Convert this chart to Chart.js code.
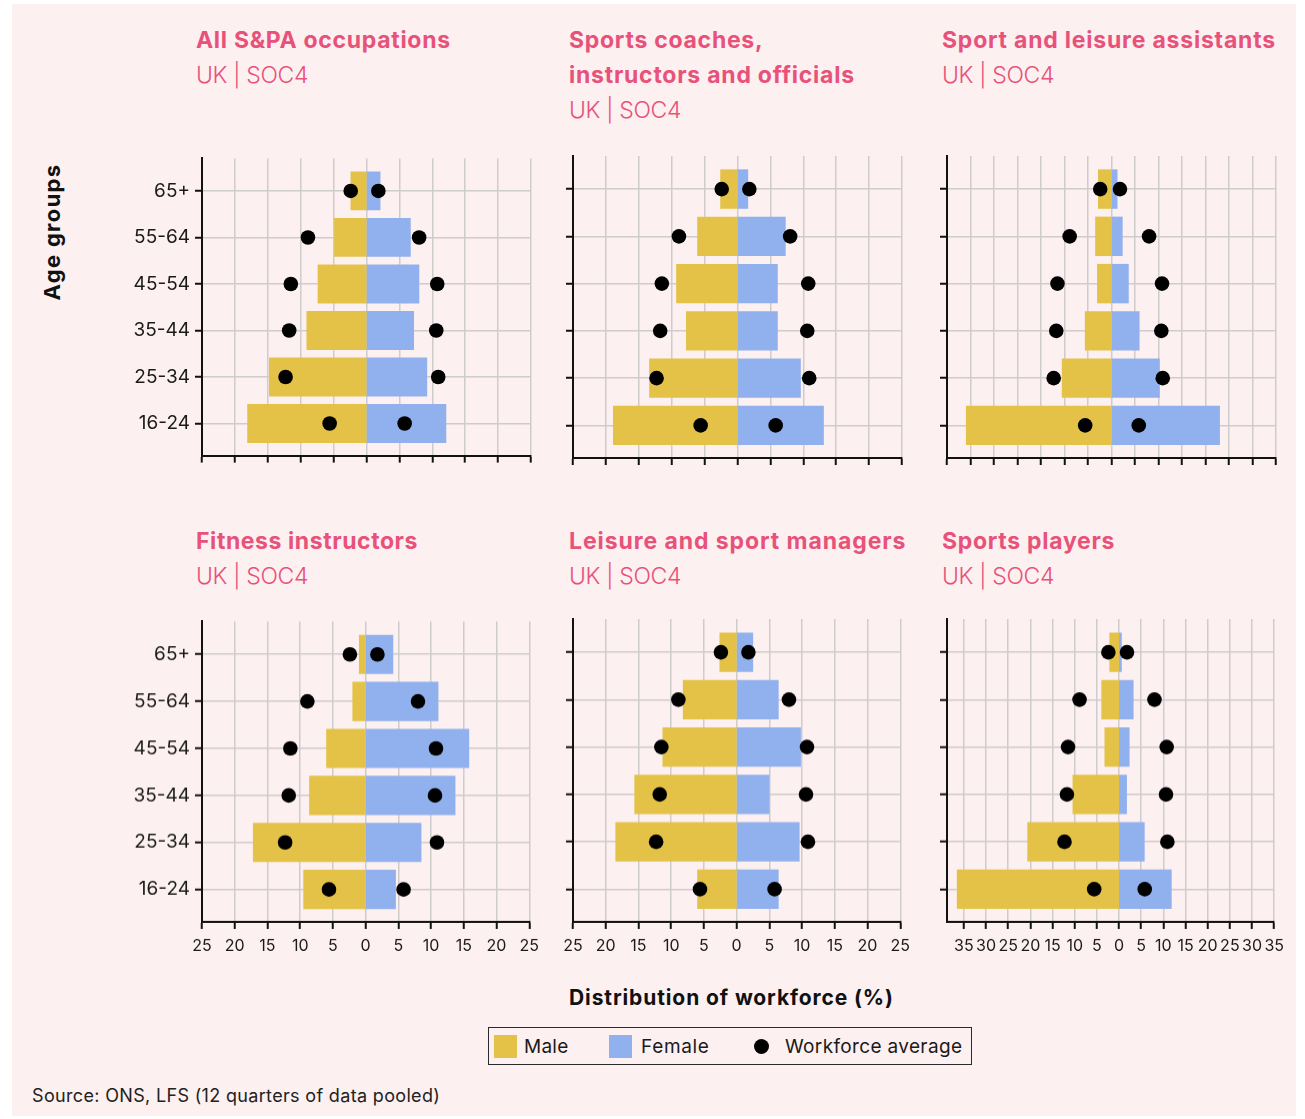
<!DOCTYPE html>
<html>
<head>
<meta charset="utf-8">
<title>Age profile of the S&PA workforce</title>
<script src="https://cdn.jsdelivr.net/npm/chart.js@4.4.1/dist/chart.umd.min.js"></script>
<style>
  body { margin: 0; width: 1305px; height: 1119px; position: relative; overflow: hidden; background: #fff;
         font-family: Inter, "Open Sans", sans-serif; color: #1a1a1a; }
  #bg { position: absolute; left: 12px; top: 4px; width: 1284px; height: 1112px; background: #fdf0f0; }
  .t { position: absolute; white-space: nowrap; line-height: 30px; height: 30px; }
  .title { color: #e8527a; font-weight: 700; font-size: 23px; }
  .sub { color: #e8527a; font-weight: 300; font-size: 23px; }
  .axt { font-weight: 700; font-size: 21px; color: #111; }
  .src { font-size: 18px; color: #222; }
  .leg { font-size: 19px; color: #1a1a1a; }
  #agegroups { position: absolute; left: 52px; top: 232px; transform: translate(-50%, -50%) rotate(-90deg);
               font-weight: 700; font-size: 22px; white-space: nowrap; color: #111; }
  #legend { position: absolute; left: 488px; top: 1027px; width: 484px; height: 38px; box-sizing: border-box;
            border: 1.5px solid #2a2a2a; }
  .sw { position: absolute; width: 23px; height: 23px; }
  canvas { position: absolute; }
</style>
</head>
<body>
<div id="bg"></div>
<div id="agegroups" data-w="137">Age groups</div>
<div id="legend"></div>
<script>
const ageGroups = ['65+', '55-64', '45-54', '35-44', '25-34', '16-24'];

// workforce average, same in every panel
const avgMale = [2.4, 8.9, 11.5, 11.75, 12.3, 5.6];
const avgFemale = [1.8, 8.0, 10.75, 10.6, 10.9, 5.8];

const allMale = [2.3, 4.8, 7.3, 9.0, 14.7, 18.0];
const allFemale = [2.0, 6.6, 7.9, 7.1, 9.1, 12.0];

const coachesMale = [2.5, 6.0, 9.2, 7.7, 13.3, 18.8];
const coachesFemale = [1.5, 7.2, 6.0, 6.0, 9.5, 13.0];

const assistantsMale = [2.7, 3.3, 2.9, 5.5, 10.4, 30.8];
const assistantsFemale = [1.1, 2.2, 3.5, 5.8, 10.1, 22.9];

const fitnessMale = [0.9, 1.9, 5.9, 8.5, 17.1, 9.4];
const fitnessFemale = [4.1, 11.0, 15.7, 13.6, 8.4, 4.5];

const managersMale = [2.5, 8.1, 11.2, 15.5, 18.4, 5.9];
const managersFemale = [2.4, 6.3, 9.7, 4.9, 9.5, 6.3];

const playersMale = [2.0, 3.8, 3.1, 10.3, 20.5, 36.4];
const playersFemale = [0.45, 3.1, 2.2, 1.6, 5.6, 11.7];

const xMins = [-25, -25, -35, -25, -25, -38.8];
const xMaxs = [25, 25, 35, 25, 25, 35];

const MALE = '#e3c247';
const FEMALE = '#91b1ee';
const GRID = '#cfcccc';
const AXIS = '#111';

Chart.defaults.font.family = 'Inter, "Open Sans", sans-serif';

const panels = [
  { male: allMale, female: allFemale, left: 201.5, top: 155.7, yLabels: true, xLabels: false },
  { male: coachesMale, female: coachesFemale, left: 573.3, top: 155.7, yLabels: false, xLabels: false },
  { male: assistantsMale, female: assistantsFemale, left: 947.3, top: 155.7, yLabels: false, xLabels: false },
  { male: fitnessMale, female: fitnessFemale, left: 201.5, top: 619, yLabels: true, xLabels: true },
  { male: managersMale, female: managersFemale, left: 573.3, top: 619, yLabels: false, xLabels: true },
  { male: playersMale, female: playersFemale, left: 947.3, top: 619, yLabels: false, xLabels: true }
];

const YW = 90, PT = 14, PR = 16, PW = 329, PH = 302.7;

function makePanel(p, k) {
  const xh = p.xLabels ? 44 : 14;
  const w = YW + PW + PR, h = PT + PH + xh;
  const cv = document.createElement('canvas');
  cv.width = w; cv.height = h;
  cv.style.left = (p.left - YW) + 'px';
  cv.style.top = (p.top - PT) + 'px';
  cv.style.width = w + 'px';
  cv.style.height = h + 'px';
  document.body.appendChild(cv);

  const side = (arr, sign) => arr.map((v, i) => ({ x: sign * v, y: i }));
  const gridOpts = { color: GRID, lineWidth: 1.5, tickColor: AXIS, tickLength: 7, tickWidth: 2, offset: false };

  new Chart(cv, {
    type: 'bar',
    data: {
      datasets: [
        { label: 'Workforce average', type: 'scatter', order: 0,
          data: side(avgMale, -1).concat(side(avgFemale, 1)),
          backgroundColor: '#000', borderWidth: 0, pointRadius: 7.3 },
        { label: 'Male', order: 1, grouped: false, data: side(p.male, -1),
          backgroundColor: MALE, borderWidth: 0, inflateAmount: 0.8 },
        { label: 'Female', order: 1, grouped: false, data: side(p.female, 1),
          backgroundColor: FEMALE, borderWidth: 0, inflateAmount: 0.8 }
      ]
    },
    options: {
      indexAxis: 'y',
      responsive: false,
      animation: false,
      events: [],
      barPercentage: 0.8,
      categoryPercentage: 1,
      layout: { padding: { top: PT, right: PR, left: 0, bottom: 0 } },
      plugins: { legend: { display: false }, tooltip: { enabled: false } },
      scales: {
        x: {
          type: 'linear', min: xMins[k], max: xMaxs[k], offset: false,
          afterFit: s => { s.height = xh; },
          afterBuildTicks: s => { s.ticks = s.ticks.filter(t => Math.abs(t.value % 5) < 1e-6); },
          ticks: { stepSize: 5, includeBounds: false, autoSkip: false, maxRotation: 0,
                   display: p.xLabels, padding: 8, font: { size: 16 }, color: '#1a1a1a',
                   callback: v => Math.abs(v) },
          grid: gridOpts,
          border: { color: AXIS, width: 2 }
        },
        y: {
          type: 'linear', reverse: true, min: -0.7, max: 5.69, offset: false,
          afterFit: s => { s.width = YW; },
          ticks: { stepSize: 1, includeBounds: false, autoSkip: false,
                   display: p.yLabels, padding: 5, font: { size: 19 }, color: '#1a1a1a',
                   callback: v => ageGroups[v] },
          grid: gridOpts,
          border: { color: AXIS, width: 2 }
        }
      }
    }
  });
}

panels.forEach(makePanel);

// text: [content, left, centre y, target width, class]
const texts = [
  ['All S&PA occupations', 196, 40, 255, 'title'],
  ['UK | SOC4', 196, 75, 112, 'sub'],
  ['Sports coaches,', 569, 40, 194, 'title'],
  ['instructors and officials', 569, 75, 286, 'title'],
  ['UK | SOC4', 569, 110, 112, 'sub'],
  ['Sport and leisure assistants', 942, 40, 334, 'title'],
  ['UK | SOC4', 942, 75, 112, 'sub'],
  ['Fitness instructors', 196, 541, 222, 'title'],
  ['UK | SOC4', 196, 576, 112, 'sub'],
  ['Leisure and sport managers', 569, 541, 337, 'title'],
  ['UK | SOC4', 569, 576, 112, 'sub'],
  ['Sports players', 942, 541, 173, 'title'],
  ['UK | SOC4', 942, 576, 112, 'sub'],
  ['Distribution of workforce (%)', 569, 998, 325, 'axt'],
  ['Source: ONS, LFS (12 quarters of data pooled)', 32, 1096, 408, 'src'],
  ['Male', 524, 1046.5, 45, 'leg'],
  ['Female', 641, 1046.5, 69, 'leg'],
  ['Workforce average', 785, 1046.5, 177, 'leg']
];

texts.forEach(([txt, x, cy, tw, cls]) => {
  const d = document.createElement('div');
  d.className = 't ' + cls;
  d.textContent = txt;
  d.style.left = x + 'px';
  d.style.top = (cy - 15) + 'px';
  d.dataset.w = tw;
  document.body.appendChild(d);
});

// legend swatches
const legend = document.getElementById('legend');
[[MALE, 494, 1035], [FEMALE, 609, 1035]].forEach(([c, x, y]) => {
  const s = document.createElement('div');
  s.className = 'sw';
  s.style.background = c;
  s.style.left = (x - 489.5) + 'px';
  s.style.top = (y - 1028.5) + 'px';
  legend.appendChild(s);
});
const dot = document.createElement('div');
dot.className = 'sw';
dot.style.cssText += 'width:15px;height:15px;border-radius:50%;background:#000;';
dot.style.left = (762.3 - 7.5 - 489.5) + 'px';
dot.style.top = (1046.7 - 7.5 - 1028.5) + 'px';
legend.appendChild(dot);

// stretch text to the widths in the picture
document.querySelectorAll('[data-w]').forEach(el => {
  const target = +el.dataset.w;
  const cur = el.offsetWidth;
  el.style.letterSpacing = ((target - cur) / el.textContent.length) + 'px';
});
</script>
</body>
</html>
